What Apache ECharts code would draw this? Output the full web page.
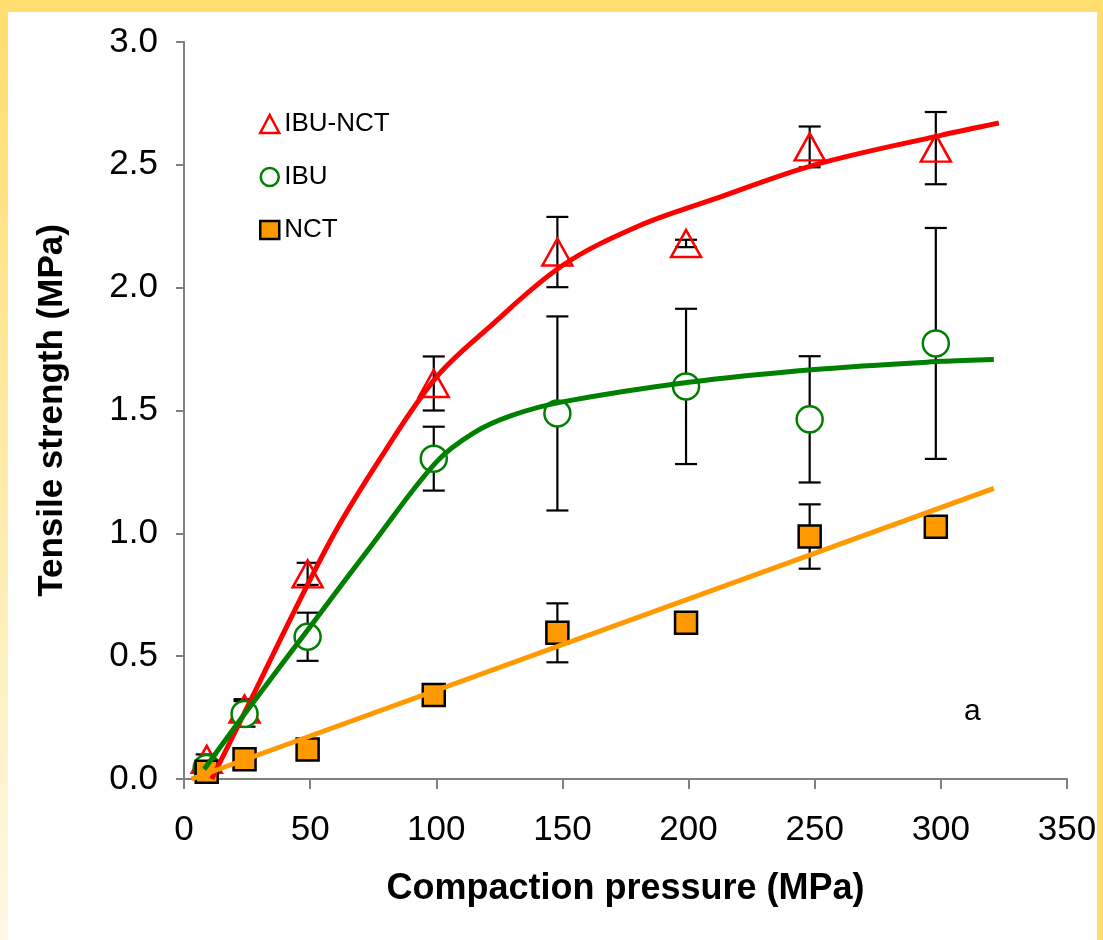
<!DOCTYPE html>
<html>
<head>
<meta charset="utf-8">
<script src="https://cdn.jsdelivr.net/npm/echarts@6/dist/echarts.min.js"></script>
<style>
  html, body { margin: 0; padding: 0; }
  body { width: 1103px; height: 940px; background: #FFDD6E; position: relative; overflow: hidden; }
  #leftband { position: absolute; left: 0; top: 12px; width: 8px; height: 928px;
    background: linear-gradient(to bottom, #FFDD6E, #FFF8E4); }
  #paper { position: absolute; left: 8px; top: 12px; width: 1089px; height: 928px; background: #fff; }
  #chart { position: absolute; left: 0; top: 0; width: 1103px; height: 940px; }
</style>
</head>
<body>
<div id="leftband"></div>
<div id="paper"></div>
<div id="chart"></div>
<script>
// measured points (compaction pressure, MPa)
var pressure = [9, 24, 49, 99, 148, 199, 248, 298];

// tensile strength (MPa) and error half-widths
var ibuNct = [0.08, 0.285, 0.835, 1.61, 2.145, 2.18, 2.573, 2.568];
var ibuNctErr = [0.02, 0.04, 0.045, 0.11, 0.143, 0.015, 0.083, 0.147];
var ibu = [0.045, 0.265, 0.579, 1.304, 1.488, 1.598, 1.464, 1.773];
var ibuErr = [0.015, 0.052, 0.098, 0.13, 0.395, 0.316, 0.257, 0.47];
var nct = [0.03, 0.08, 0.12, 0.342, 0.595, 0.636, 0.987, 1.027];
var nctErr = [0.01, 0.012, 0.042, 0.015, 0.12, 0.037, 0.131, 0.02];

// fitted curves
var ibuNctFit = [[11, 0.0], [24, 0.27], [58, 0.97], [80, 1.34], [100, 1.635], [120, 1.83],
  [150, 2.09], [180, 2.25], [210, 2.36], [250, 2.5], [300, 2.62], [323, 2.67]];
var ibuFit = [[8, 0.04], [24, 0.265], [50, 0.62], [75, 0.96], [100, 1.29], [115, 1.41],
  [130, 1.48], [150, 1.535], [200, 1.615], [250, 1.667], [300, 1.70], [321, 1.708]];
var nctFit = [[3, 0.0], [321, 1.183]];

var seriesNames = ["IBU-NCT", "IBU", "NCT"];
var xTicks = [0, 50, 100, 150, 200, 250, 300, 350];

var font = "'Liberation Sans', Arial, sans-serif";

function points(ys) {
  return pressure.map(function (x, i) { return [x, ys[i]]; });
}
function bars(ys, errs) {
  return pressure.map(function (x, i) { return [x, ys[i] - errs[i], ys[i] + errs[i]]; });
}

function renderErr(params, api) {
  var x = api.value(0);
  var top = api.coord([x, api.value(2)]);
  var bot = api.coord([x, api.value(1)]);
  var hw = 11;
  var st = { stroke: "#000", lineWidth: 2.2 };
  return {
    type: "group",
    children: [
      { type: "line", shape: { x1: top[0], y1: top[1], x2: bot[0], y2: bot[1] }, style: st },
      { type: "line", shape: { x1: top[0] - hw, y1: top[1], x2: top[0] + hw, y2: top[1] }, style: st },
      { type: "line", shape: { x1: bot[0] - hw, y1: bot[1], x2: bot[0] + hw, y2: bot[1] }, style: st },
    ],
  };
}

function errSeries(data) {
  return {
    type: "custom",
    renderItem: renderErr,
    encode: { x: 0, y: [1, 2] },
    data: data,
    z: 1,
    silent: true,
  };
}

function fitSeries(data, color, w) {
  return {
    type: "line",
    data: data,
    smooth: 0.35,
    showSymbol: false,
    symbol: "none",
    lineStyle: { color: color, width: w },
    z: 4,
    silent: true,
  };
}

var chart = echarts.init(document.getElementById("chart"));
chart.setOption({
  animation: false,
  textStyle: { fontFamily: font },
  grid: { left: 184, right: 36, top: 42, bottom: 161 },
  legend: {
    orient: "vertical",
    left: 254,
    top: 106,
    itemWidth: 19,
    itemHeight: 18,
    itemGap: 27,
    textStyle: { fontSize: 26, color: "#000", fontFamily: font },
    data: [
      { name: seriesNames[0], icon: "triangle", itemStyle: { color: "transparent", borderColor: "#FF0000", borderWidth: 2.5 } },
      { name: seriesNames[1], icon: "circle", itemStyle: { color: "#fff", borderColor: "#008000", borderWidth: 2.5 } },
      { name: seriesNames[2], icon: "rect", itemStyle: { color: "#FF9900", borderColor: "#000", borderWidth: 2.5 } },
    ],
  },
  xAxis: {
    type: "value",
    min: xTicks[0],
    max: xTicks[xTicks.length - 1],
    interval: 50,
    name: "Compaction pressure (MPa)",
    nameLocation: "middle",
    nameGap: 92,
    nameTextStyle: { fontSize: 36, fontWeight: "bold", color: "#000", fontFamily: font },
    axisLine: { lineStyle: { color: "#808080", width: 2 } },
    axisTick: { length: 10, lineStyle: { color: "#808080", width: 2 } },
    axisLabel: { fontSize: 35, color: "#000", margin: 34, fontFamily: font },
    splitLine: { show: false },
  },
  yAxis: {
    type: "value",
    min: 0,
    max: 3,
    interval: 0.5,
    name: "Tensile strength (MPa)",
    nameLocation: "middle",
    nameGap: 114,
    nameTextStyle: { fontSize: 35, fontWeight: "bold", color: "#000", fontFamily: font },
    axisLine: { show: true, lineStyle: { color: "#808080", width: 2 } },
    axisTick: { show: true, length: 8, lineStyle: { color: "#808080", width: 2 } },
    axisLabel: {
      fontSize: 35, color: "#000", margin: 26, fontFamily: font,
      formatter: function (v) { return v.toFixed(1); },
    },
    splitLine: { show: false },
  },
  graphic: [
    { type: "text", left: 964, top: 697, style: { text: "a", font: "30px " + font, fill: "#000" } },
  ],
  series: [
    errSeries(bars(ibuNct, ibuNctErr)),
    errSeries(bars(ibu, ibuErr)),
    errSeries(bars(nct, nctErr)),
    {
      name: seriesNames[0],
      type: "scatter",
      data: points(ibuNct),
      symbol: "triangle",
      symbolSize: [30, 27],
      itemStyle: { color: "transparent", borderColor: "#FF0000", borderWidth: 2.5, opacity: 1 },
      z: 2,
    },
    {
      name: seriesNames[1],
      type: "scatter",
      data: points(ibu),
      symbol: "circle",
      symbolSize: 26,
      itemStyle: { color: "#fff", borderColor: "#008000", borderWidth: 2.5, opacity: 1 },
      z: 2,
    },
    {
      name: seriesNames[2],
      type: "scatter",
      data: points(nct),
      symbol: "rect",
      symbolSize: 22,
      itemStyle: { color: "#FF9900", borderColor: "#000", borderWidth: 2.5, opacity: 1 },
      z: 2,
    },
    fitSeries(ibuNctFit, "#FF0000", 5),
    fitSeries(ibuFit, "#008000", 5),
    fitSeries(nctFit, "#FF9900", 5),
  ],
});
</script>
</body>
</html>
